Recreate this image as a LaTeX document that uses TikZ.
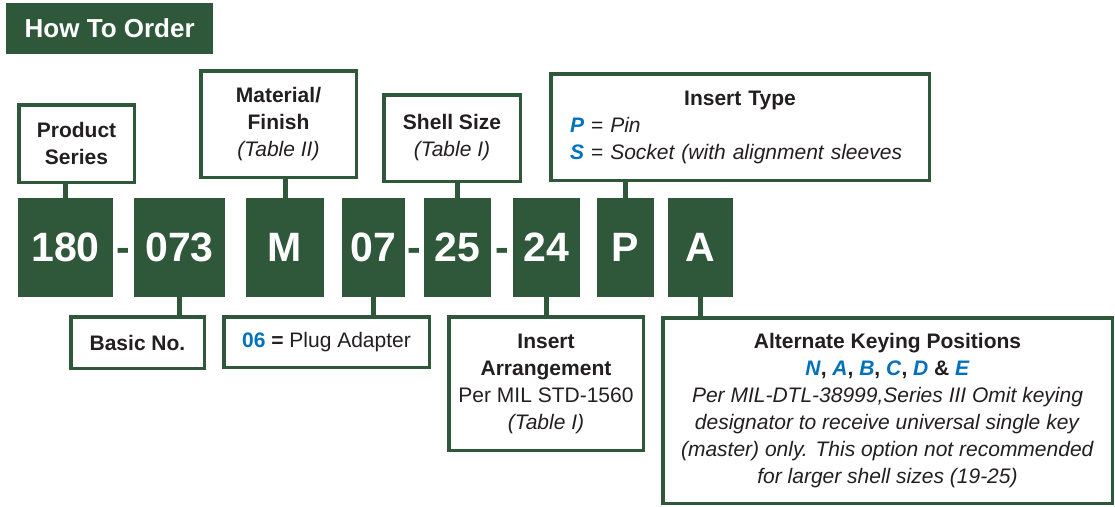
\documentclass[tikz,border=0pt]{standalone}
\usepackage{fontspec}
\setmainfont{Liberation Sans}
\usepackage{tikz}
\usetikzlibrary{calc}
\usetikzlibrary{positioning}
\definecolor{ordergreen}{RGB}{47,87,58}
\definecolor{codeblue}{RGB}{0,114,188}
\definecolor{inkdark}{RGB}{35,31,32}

\begin{document}
\begin{tikzpicture}[
	x=1pt, y=-1pt,
	CodeBox/.style={fill=ordergreen,text=white,font=\fontsize{41}{41}\selectfont\bfseries,minimum height=99pt,inner sep=0pt,outer sep=0pt,anchor=north west},
	LabelBox/.style={draw=ordergreen,line width=3.5pt,fill=white,text=inkdark,align=center,font=\fontsize{21}{27}\selectfont,inner sep=0pt,anchor=north west},
	Link/.style={draw=ordergreen,line width=5pt},
	DashMark/.style={text=ordergreen,font=\fontsize{41}{41}\selectfont\bfseries,inner sep=0pt,anchor=base}
	]
	\useasboundingbox (0,0) rectangle (1115,506);
	
	% heading
	\node[fill=ordergreen,text=white,font=\fontsize{26}{26}\selectfont\bfseries,minimum width=207pt,minimum height=51pt,inner sep=0pt,anchor=north west] (title) at (6,3) {How To Order};
	
	% the part number
	\node[CodeBox,minimum width=95pt] (c180) at (18,198) {180};
	\node[CodeBox,minimum width=91pt] (c073) at (134,198) {073};
	\node[CodeBox,minimum width=78pt] (cM) at (246,198) {M};
	\node[CodeBox,minimum width=63pt] (c07) at (342,198) {07};
	\node[CodeBox,minimum width=67pt] (c25) at (424,198) {25};
	\node[CodeBox,minimum width=67pt] (c24) at (513,198) {24};
	\node[CodeBox,minimum width=57pt] (cP) at (597,198) {P};
	\node[CodeBox,minimum width=65pt] (cA) at (668,198) {A};
	
	\node[DashMark] (h1) at ($(c180.base east)!.5!(c073.base west)$) {-};
	\node[DashMark] (h2) at ($(c07.base east)!.5!(c25.base west)$) {-};
	\node[DashMark] (h3) at ($(c25.base east)!.5!(c24.base west)$) {-};
	
	% labels above
	\node[LabelBox,minimum width=115.5pt,minimum height=77.5pt] (series) at (17,103) {\textbf{Product}\\\textbf{Series}};
	\node[LabelBox,minimum width=155.5pt,minimum height=106.5pt] (material) at (199,69) {\textbf{Material/}\\\textbf{Finish}\\\textit{(Table II)}};
	\node[LabelBox,minimum width=136.5pt,minimum height=86.5pt] (shell) at (382,93) {\textbf{Shell Size}\\\textit{(Table I)}};
	\node[LabelBox,align=left,text width=340pt,minimum width=378.5pt,minimum height=106.5pt] (instype) at (549,72) {\makebox[\linewidth][c]{\textbf{Insert Type}}\\
		\textcolor{codeblue}{\textbf{\textit{P}}} = \textit{Pin}\\
		\textcolor{codeblue}{\textbf{\textit{S}}} = \textit{Socket (with alignment sleeves}};
	
	% labels below
	\node[LabelBox,minimum width=133.5pt,minimum height=51.5pt] (basic) at (69,315) {\textbf{Basic No.}};
	\node[LabelBox,minimum width=205.5pt,minimum height=50.5pt] (plug) at (222,315) {\textbf{\textcolor{codeblue}{06} =} Plug Adapter};
	\node[LabelBox,minimum width=194.5pt,minimum height=133.5pt] (arrange) at (447,315) {\textbf{Insert}\\\textbf{Arrangement}\\Per MIL STD-1560\\\textit{(Table I)}};
	\node[LabelBox,minimum width=449.5pt,minimum height=185.5pt] (keying) at (661,316) {\textbf{Alternate Keying Positions}\\
		\textbf{\textcolor{codeblue}{\textit{N}}, \textcolor{codeblue}{\textit{A}}, \textcolor{codeblue}{\textit{B}}, \textcolor{codeblue}{\textit{C}}, \textcolor{codeblue}{\textit{D}} \& \textcolor{codeblue}{\textit{E}}}\\
		\textit{Per MIL-DTL-38999,Series III Omit keying}\\
		\textit{designator to receive universal single key}\\
		\textit{(master) only. This option not recommended}\\
		\textit{for larger shell sizes (19-25)}};
	
	% connectors
	\draw[Link] (c180.north) -- (c180.north |- series.south);
	\draw[Link] (cM.north) -- (cM.north |- material.south);
	\draw[Link] (c25.north) -- (c25.north |- shell.south);
	\draw[Link] (cP.north) -- (cP.north |- instype.south);
	\draw[Link] (c073.south) -- (c073.south |- basic.north);
	\draw[Link] (c07.south) -- (c07.south |- plug.north);
	\draw[Link] (c24.south) -- (c24.south |- arrange.north);
	\draw[Link] (cA.south) -- (cA.south |- keying.north);
	
\end{tikzpicture}
\end{document}
